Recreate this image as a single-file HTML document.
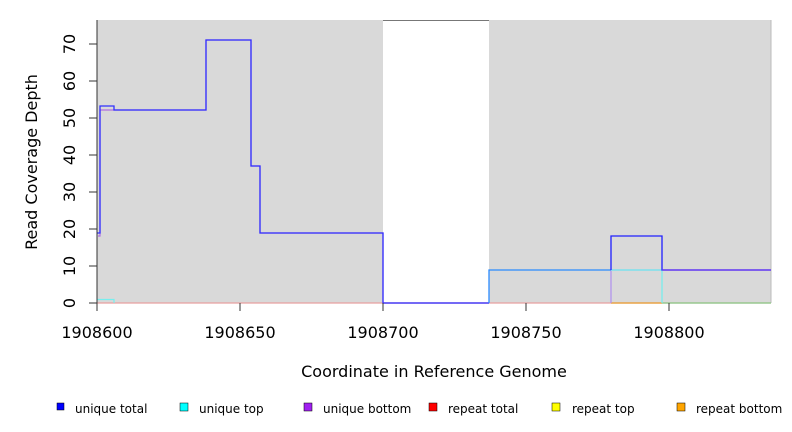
<!DOCTYPE html>
<html><head><meta charset="utf-8"><style>body{margin:0;background:#fff}svg{display:block}</style></head><body>
<svg width="792" height="432" xmlns="http://www.w3.org/2000/svg" font-family="DejaVu Sans, Liberation Sans, sans-serif">
<rect x="97" y="20" width="286" height="283" fill="#d9d9d9"/>
<rect x="489" y="20" width="282" height="283" fill="#d9d9d9"/>
<line x1="383" y1="20.5" x2="489" y2="20.5" stroke="#777" stroke-width="1"/>
<line x1="771" y1="20" x2="771" y2="303" stroke="#bbb"/>
<polyline points="97,303 771,303" fill="none" stroke="#e8a0a0" stroke-width="1.2"/>
<polyline points="611,303 662,303" fill="none" stroke="#e9a030" stroke-width="1.2"/>
<polyline points="662,303 771,303" fill="none" stroke="#8c8" stroke-width="1.2"/>
<polyline points="97,299.5 114,299.5 114,303" fill="none" stroke="#7ee" stroke-width="1.2"/>
<polyline points="98,236 100,236 100,110 114,110 206,110 206,40 251,40 251,166 260,166 260,233 383,233 383,303 489,303" fill="none" stroke="#b070e0" stroke-width="1.2"/>
<polyline points="611,303 611,270 771,270" fill="none" stroke="#b090ee" stroke-width="1.2"/>
<polyline points="611,270 662,270 662,303" fill="none" stroke="#70eeee" stroke-width="1.2"/>
<polyline points="97,233 100,233 100,106 114,106 114,110 206,110 206,40 251,40 251,166 260,166 260,233 383,233 383,303 489,303" fill="none" stroke="#3030ff" stroke-width="1.3"/>
<polyline points="489,303 489,270 611,270" fill="none" stroke="#2a8aff" stroke-width="1.3"/>
<polyline points="611,270 611,236 662,236 662,270 771,270" fill="none" stroke="#2020ff" stroke-width="1.3"/>
<polyline points="662,270 771,270" fill="none" stroke="#6a3af0" stroke-width="1.3"/>
<line x1="97" y1="20" x2="97" y2="311" stroke="#333"/>
<g stroke="#333">
<line x1="89" y1="303" x2="97" y2="303"/><line x1="89" y1="266" x2="97" y2="266"/><line x1="89" y1="229" x2="97" y2="229"/><line x1="89" y1="192" x2="97" y2="192"/><line x1="89" y1="155" x2="97" y2="155"/><line x1="89" y1="118" x2="97" y2="118"/><line x1="89" y1="81" x2="97" y2="81"/><line x1="89" y1="44" x2="97" y2="44"/>
<line x1="240" y1="303" x2="240" y2="311"/><line x1="383" y1="303" x2="383" y2="311"/><line x1="526" y1="303" x2="526" y2="311"/><line x1="669" y1="303" x2="669" y2="311"/>
</g>
<g font-size="16" fill="#000" text-anchor="middle">
<text transform="translate(75,303) rotate(-90)">0</text>
<text transform="translate(75,266) rotate(-90)">10</text>
<text transform="translate(75,229) rotate(-90)">20</text>
<text transform="translate(75,192) rotate(-90)">30</text>
<text transform="translate(75,155) rotate(-90)">40</text>
<text transform="translate(75,118) rotate(-90)">50</text>
<text transform="translate(75,81) rotate(-90)">60</text>
<text transform="translate(75,44) rotate(-90)">70</text>
<text x="97" y="338">1908600</text><text x="240" y="338">1908650</text><text x="383" y="338">1908700</text><text x="526" y="338">1908750</text><text x="669" y="338">1908800</text>
<text x="434" y="377">Coordinate in Reference Genome</text>
<text transform="translate(37,162) rotate(-90)">Read Coverage Depth</text>
</g>
<g font-size="12" fill="#000">
<rect x="57" y="403" width="7" height="7" fill="#0000ff" stroke="#000" stroke-width="0.5"/><text x="75" y="413">unique total</text>
<rect x="180" y="403" width="8" height="8" fill="#00ffff" stroke="#000" stroke-width="0.5"/><text x="199" y="413">unique top</text>
<rect x="304" y="403" width="8" height="8" fill="#a020f0" stroke="#000" stroke-width="0.5"/><text x="323" y="413">unique bottom</text>
<rect x="429" y="403" width="8" height="8" fill="#ff0000" stroke="#000" stroke-width="0.5"/><text x="448" y="413">repeat total</text>
<rect x="552" y="403" width="8" height="8" fill="#ffff00" stroke="#000" stroke-width="0.5"/><text x="572" y="413">repeat top</text>
<rect x="677" y="403" width="8" height="8" fill="#ffa500" stroke="#000" stroke-width="0.5"/><text x="696" y="413">repeat bottom</text>
</g>
</svg>
</body></html>
